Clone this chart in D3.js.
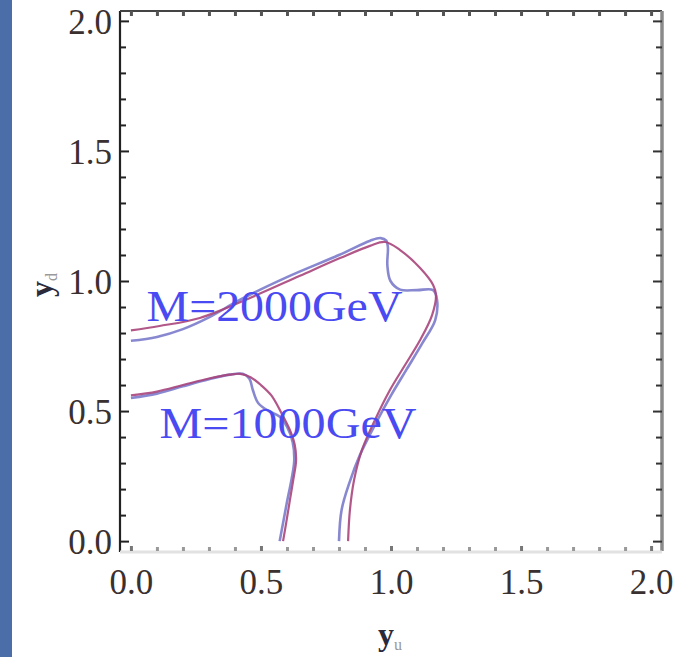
<!DOCTYPE html>
<html>
<head>
<meta charset="utf-8">
<script src="https://cdn.jsdelivr.net/npm/d3@7"></script>
<style>
  html, body { margin: 0; padding: 0; background: #fff; }
  svg { display: block; }
</style>
</head>
<body>
<div id="chart"></div>
<script>
// contour lines, as [yu, yd]
const m2000Red = [[0, 0.81], [0.11, 0.827], [0.265, 0.858], [0.458, 0.935], [0.65, 1.02], [0.804, 1.088],
  [0.919, 1.135], [0.977, 1.15], [1.035, 1.119], [1.112, 1.05], [1.162, 0.985], [1.173, 0.946],
  [1.158, 0.869], [1.112, 0.773], [1.054, 0.677], [0.996, 0.581], [0.938, 0.465], [0.888, 0.35],
  [0.858, 0.235], [0.842, 0.119], [0.835, 0]];
const m2000Blue = [[0, 0.77], [0.1, 0.785], [0.2, 0.815], [0.3, 0.86], [0.42, 0.928], [0.6, 1.015],
  [0.8, 1.1], [0.92, 1.155], [0.96, 1.165], [0.982, 1.155], [0.988, 1.13], [0.986, 1.06],
  [0.998, 1.0], [1.035, 0.967], [1.1, 0.965], [1.162, 0.965], [1.177, 0.927], [1.17, 0.85],
  [1.12, 0.76], [1.06, 0.66], [1.0, 0.56], [0.94, 0.45], [0.88, 0.33], [0.842, 0.23],
  [0.81, 0.12], [0.8, 0]];
const m1000Red = [[0, 0.56], [0.1, 0.575], [0.2, 0.6], [0.3, 0.625], [0.38, 0.64], [0.42, 0.643],
  [0.46, 0.63], [0.5, 0.6], [0.54, 0.56], [0.58, 0.49], [0.61, 0.43], [0.63, 0.37], [0.635, 0.31],
  [0.625, 0.24], [0.61, 0.15], [0.597, 0.07], [0.585, 0]];
const m1000Blue = [[0, 0.55], [0.1, 0.567], [0.2, 0.595], [0.3, 0.622], [0.38, 0.64], [0.43, 0.643],
  [0.455, 0.625], [0.469, 0.58], [0.49, 0.53], [0.53, 0.5], [0.57, 0.48], [0.6, 0.44], [0.622, 0.38],
  [0.628, 0.31], [0.618, 0.24], [0.6, 0.15], [0.585, 0.07], [0.572, 0]];

const majorTicks = [0, 0.5, 1.0, 1.5, 2.0];
const tickLabels = ["0.0", "0.5", "1.0", "1.5", "2.0"];
const minorTicks = d3.range(0, 21).map(i => i / 10).filter(v => Math.abs(v * 2 - Math.round(v * 2)) > 1e-6);

const curveLabels = [
  { text: "M=2000GeV", x: 0.06, y: 0.845, len: 256 },
  { text: "M=1000GeV", x: 0.11, y: 0.398, len: 257 }
];

const width = 684, height = 657;
const frameL = 120, frameR = 662, frameT = 11, frameB = 551;

const svg = d3.select("#chart").append("svg")
  .attr("width", width)
  .attr("height", height);

svg.append("defs").append("filter").attr("id", "soft")
  .append("feGaussianBlur").attr("stdDeviation", 0.6);

// blue stripe on the left edge
svg.append("rect").attr("x", 0).attr("y", 0).attr("width", 12).attr("height", height).attr("fill", "#4b6ea8");

let x = d3.scaleLinear().domain([-0.042, 2.042]).range([frameL, frameR]);
let y = d3.scaleLinear().domain([-0.038, 2.038]).range([frameB, frameT]);

const serif = "'Liberation Serif', 'DejaVu Serif', serif";

// frame
svg.append("line").attr("x1", frameL).attr("x2", frameL).attr("y1", frameT).attr("y2", frameB + 1)
  .attr("stroke", "#222").attr("stroke-width", 2.2);
svg.append("line").attr("x1", frameL).attr("x2", frameR).attr("y1", frameT).attr("y2", frameT)
  .attr("stroke", "#444").attr("stroke-width", 2.2);
svg.append("line").attr("x1", frameR).attr("x2", frameR).attr("y1", frameT).attr("y2", frameB)
  .attr("stroke", "#8a8a8a").attr("stroke-width", 3.5);
svg.append("line").attr("x1", frameL).attr("x2", frameR).attr("y1", frameB + 1).attr("y2", frameB + 1)
  .attr("stroke", "#e2e2e2").attr("stroke-width", 3);

function styleAxis(g, color, w) {
  g.select(".domain").remove();
  g.selectAll(".tick line").attr("stroke", color).attr("stroke-width", w);
}

// left axis: ticks inside, labels outside
svg.append("g").attr("transform", `translate(${frameL},0)`)
  .call(d3.axisLeft(y).tickValues(majorTicks).tickSize(-9).tickPadding(8).tickFormat((d, i) => tickLabels[i]))
  .call(g => styleAxis(g, "#222", 2))
  .call(g => g.selectAll(".tick text").attr("font-family", serif).attr("font-size", 35)
    .attr("fill", "#3a3030").attr("dy", "0.36em"));
svg.append("g").attr("transform", `translate(${frameL},0)`)
  .call(d3.axisLeft(y).tickValues(minorTicks).tickSize(-6).tickFormat(""))
  .call(g => styleAxis(g, "#222", 2));

// right axis
svg.append("g").attr("transform", `translate(${frameR},0)`)
  .call(d3.axisRight(y).tickValues(majorTicks).tickSize(-9).tickFormat(""))
  .call(g => styleAxis(g, "#333", 2));
svg.append("g").attr("transform", `translate(${frameR},0)`)
  .call(d3.axisRight(y).tickValues(minorTicks).tickSize(-6).tickFormat(""))
  .call(g => styleAxis(g, "#333", 2));

// top axis: short dotted ticks
svg.append("g").attr("transform", `translate(0,${frameT})`)
  .call(d3.axisTop(x).tickValues(majorTicks.concat(minorTicks)).tickSize(-5).tickFormat(""))
  .call(g => styleAxis(g, "#555", 3));

// bottom axis: faint ticks, labels below
svg.append("g").attr("transform", `translate(0,${frameB})`)
  .call(d3.axisBottom(x).tickValues(majorTicks).tickSize(-5).tickPadding(18).tickFormat((d, i) => tickLabels[i]))
  .call(g => styleAxis(g, "#777", 3))
  .call(g => g.selectAll(".tick text").attr("font-family", serif).attr("font-size", 35)
    .attr("fill", "#3a3030"));
svg.append("g").attr("transform", `translate(0,${frameB})`)
  .call(d3.axisBottom(x).tickValues(minorTicks).tickSize(-4).tickFormat(""))
  .call(g => styleAxis(g, "#999", 3));

// contour lines
const line = d3.line()
  .x(d => x(d[0]))
  .y(d => y(d[1]))
  .curve(d3.curveCatmullRom.alpha(0.5));

const plot = svg.append("g").attr("filter", "url(#soft)");
[m2000Blue, m1000Blue].forEach(pts => {
  plot.append("path").attr("d", line(pts)).attr("fill", "none")
    .attr("stroke", "#7b7bcc").attr("stroke-width", 2.6).attr("stroke-opacity", 0.9);
});
[m2000Red, m1000Red].forEach(pts => {
  plot.append("path").attr("d", line(pts)).attr("fill", "none")
    .attr("stroke", "#a8457c").attr("stroke-width", 2.2).attr("stroke-opacity", 0.9);
});

// curve labels
curveLabels.forEach(l => {
  svg.append("text")
    .attr("x", x(l.x)).attr("y", y(l.y))
    .attr("font-family", serif).attr("font-size", 44)
    .attr("textLength", l.len).attr("lengthAdjust", "spacingAndGlyphs")
    .attr("fill", "#4a4af2")
    .text(l.text);
});

// axis titles
const xt = svg.append("text").attr("x", 390).attr("y", 645).attr("text-anchor", "middle")
  .attr("font-family", serif).attr("font-size", 32).attr("font-weight", "bold").attr("fill", "#2a2a3a");
xt.append("tspan").text("y");
xt.append("tspan").attr("font-size", 16).attr("dy", 5).attr("fill", "#999").attr("font-weight", "normal").text("u");

const yt = svg.append("text").attr("transform", "translate(52,285) rotate(-90)").attr("text-anchor", "middle")
  .attr("font-family", serif).attr("font-size", 32).attr("font-weight", "bold").attr("fill", "#2a2a3a");
yt.append("tspan").text("y");
yt.append("tspan").attr("font-size", 16).attr("dy", 5).attr("fill", "#999").attr("font-weight", "normal").text("d");
</script>
</body>
</html>
